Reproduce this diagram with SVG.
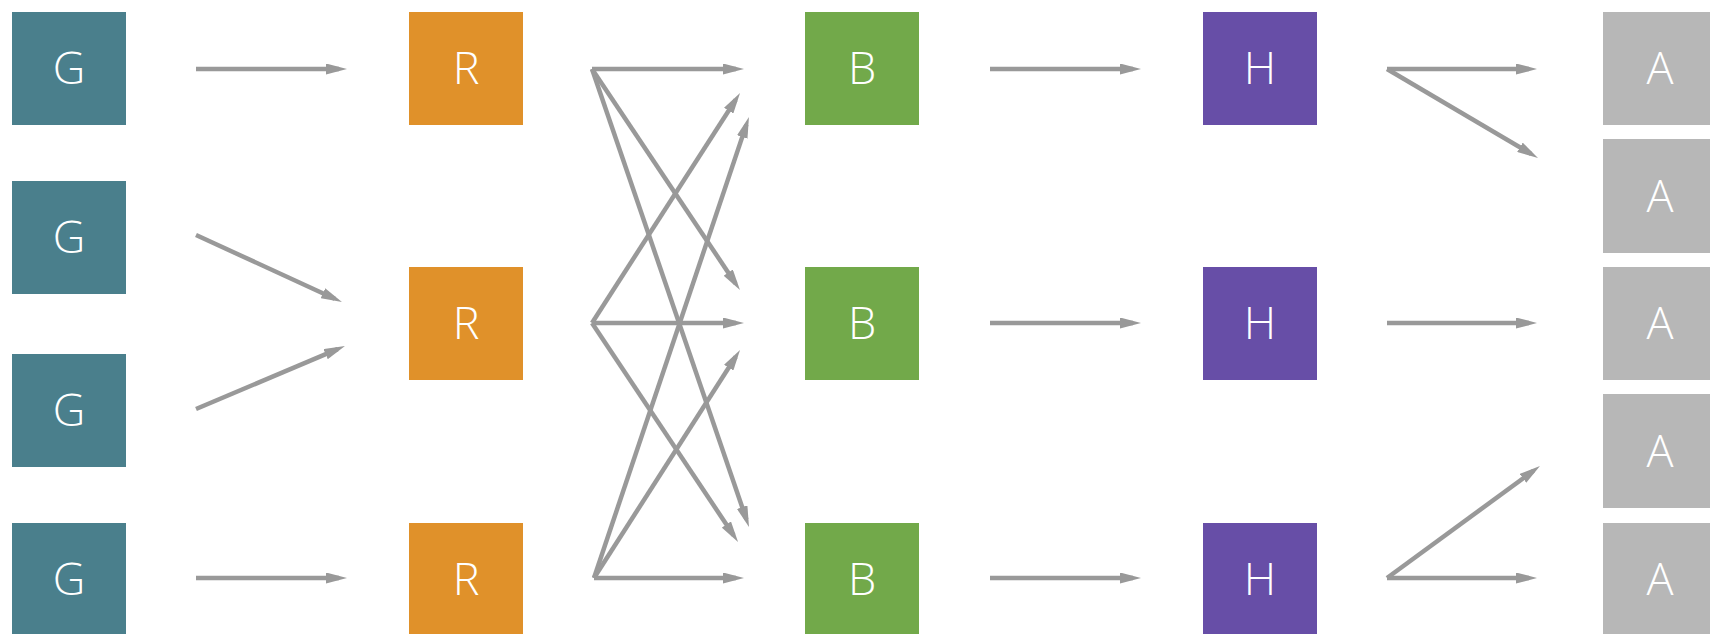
<svg xmlns="http://www.w3.org/2000/svg" width="1710" height="634" viewBox="0 0 1710 634">
<defs>
<marker id="ah" markerUnits="userSpaceOnUse" markerWidth="21" markerHeight="11" refX="13" refY="5.5" orient="auto">
<path d="M0,0 L21,5.5 L0,11 z" fill="#999"/>
</marker>
<style>
.n text{font-family:"Open Sans","Liberation Sans",sans-serif;font-size:45px;font-weight:300;fill:#fff;text-anchor:middle}
.g rect{fill:#4a7f8c}.r rect{fill:#e0912a}.b rect{fill:#72a94a}.h rect{fill:#674ea7}.a rect{fill:#b7b7b7}
#edges line{stroke:#999;stroke-width:4.5;marker-end:url(#ah)}
</style>
</defs>
<rect width="1710" height="634" fill="#fff"/>
<g id="edges">
<line x1="196" y1="69" x2="339" y2="69"/>
<line x1="196" y1="235" x2="334.7" y2="298.7"/>
<line x1="196" y1="409" x2="337.6" y2="349.1"/>
<line x1="196" y1="578" x2="339" y2="578"/>
<line x1="592" y1="69" x2="736" y2="69"/>
<line x1="592" y1="69" x2="735.5" y2="283.4"/>
<line x1="592" y1="69" x2="746.4" y2="519.4"/>
<line x1="592" y1="323" x2="736" y2="323"/>
<line x1="592" y1="323" x2="735.7" y2="99.7"/>
<line x1="592" y1="323" x2="733.6" y2="535.3"/>
<line x1="594" y1="578" x2="736" y2="578"/>
<line x1="594" y1="578" x2="746.4" y2="124.6"/>
<line x1="594" y1="578" x2="735.7" y2="356.7"/>
<line x1="990" y1="69" x2="1133" y2="69"/>
<line x1="990" y1="323" x2="1133" y2="323"/>
<line x1="990" y1="578" x2="1133" y2="578"/>
<line x1="1387" y1="69" x2="1529" y2="69"/>
<line x1="1387" y1="69" x2="1531.1" y2="153.9"/>
<line x1="1387" y1="323" x2="1529" y2="323"/>
<line x1="1387" y1="578" x2="1529" y2="578"/>
<line x1="1387" y1="578" x2="1533.5" y2="470.7"/>
</g>
<g id="g1" class="n g"><rect x="12" y="12" width="114" height="113"/><text x="69" y="84">G</text></g>
<g id="g2" class="n g"><rect x="12" y="181" width="114" height="113"/><text x="69" y="253">G</text></g>
<g id="g3" class="n g"><rect x="12" y="354" width="114" height="113"/><text x="69" y="426">G</text></g>
<g id="g4" class="n g"><rect x="12" y="523" width="114" height="113"/><text x="69" y="595">G</text></g>
<g id="r1" class="n r"><rect x="409" y="12" width="114" height="113"/><text x="466" y="84">R</text></g>
<g id="r2" class="n r"><rect x="409" y="267" width="114" height="113"/><text x="466" y="339">R</text></g>
<g id="r3" class="n r"><rect x="409" y="523" width="114" height="113"/><text x="466" y="595">R</text></g>
<g id="b1" class="n b"><rect x="805" y="12" width="114" height="113"/><text x="862" y="84">B</text></g>
<g id="b2" class="n b"><rect x="805" y="267" width="114" height="113"/><text x="862" y="339">B</text></g>
<g id="b3" class="n b"><rect x="805" y="523" width="114" height="113"/><text x="862" y="595">B</text></g>
<g id="h1" class="n h"><rect x="1203" y="12" width="114" height="113"/><text x="1260" y="84">H</text></g>
<g id="h2" class="n h"><rect x="1203" y="267" width="114" height="113"/><text x="1260" y="339">H</text></g>
<g id="h3" class="n h"><rect x="1203" y="523" width="114" height="113"/><text x="1260" y="595">H</text></g>
<g id="a1" class="n a"><rect x="1603" y="12" width="114" height="113"/><text x="1660" y="84">A</text></g>
<g id="a2" class="n a"><rect x="1603" y="139" width="114" height="114"/><text x="1660" y="212">A</text></g>
<g id="a3" class="n a"><rect x="1603" y="267" width="114" height="113"/><text x="1660" y="339">A</text></g>
<g id="a4" class="n a"><rect x="1603" y="394" width="114" height="114"/><text x="1660" y="467">A</text></g>
<g id="a5" class="n a"><rect x="1603" y="523" width="114" height="113"/><text x="1660" y="595">A</text></g>
</svg>
